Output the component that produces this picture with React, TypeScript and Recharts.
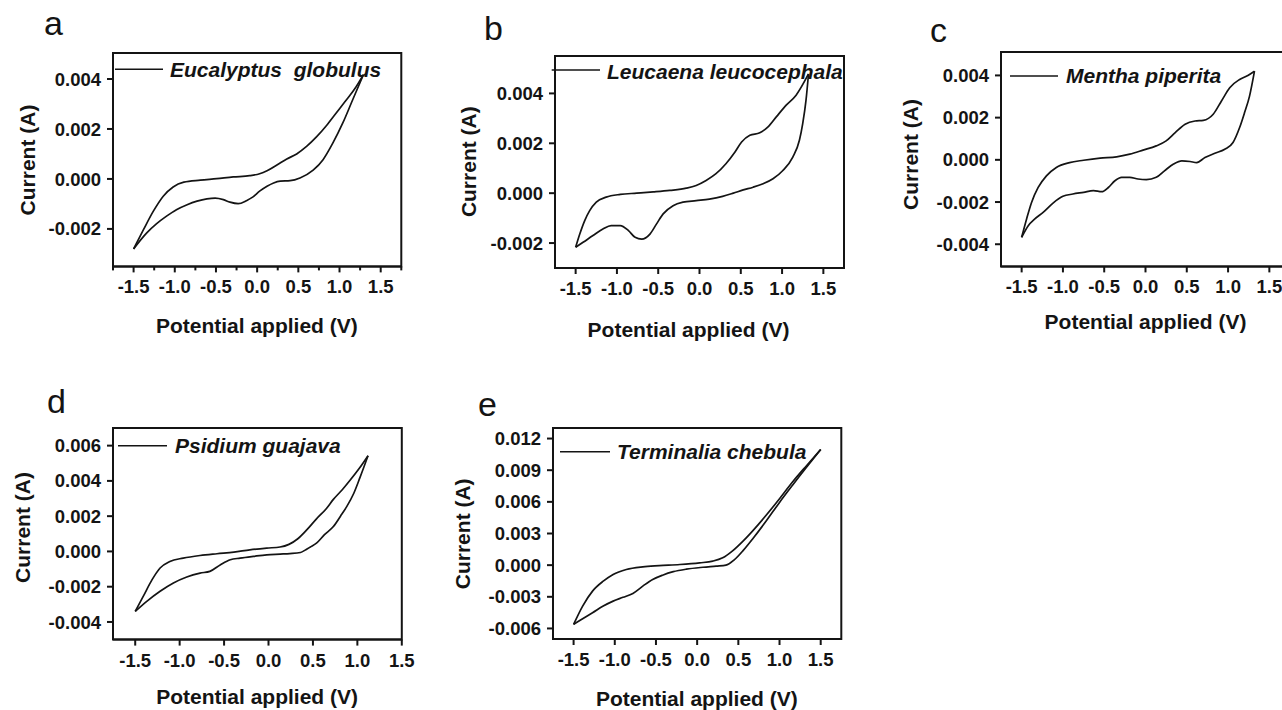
import React from 'react';
import { LineChart, Line, XAxis, YAxis, ReferenceArea } from 'recharts';

// [potential (V), current (mA)] — each voltammogram split into forward (upper) and reverse (lower) branch
type Pt = [number, number];

const xTicks = [-1.5, -1.0, -0.5, 0.0, 0.5, 1.0, 1.5];
const xTicksWithMinor = [-1.75, -1.5, -1.25, -1.0, -0.75, -0.5, -0.25, 0.0, 0.25, 0.5, 0.75, 1.0, 1.25, 1.5, 1.75];
const yTicksA = [-0.002, 0.0, 0.002, 0.004];
const yTicksB = [-0.002, 0.0, 0.002, 0.004];
const yTicksC = [-0.004, -0.002, 0.0, 0.002, 0.004];
const yTicksD = [-0.004, -0.002, 0.0, 0.002, 0.004, 0.006];
const yTicksE = [-0.006, -0.003, 0.0, 0.003, 0.006, 0.009, 0.012];

const eucalyptusFwd: Pt[] = [
  [-1.5, -2.8], [-1.38, -2.03], [-1.26, -1.29], [-1.14, -0.69], [-1.02, -0.32], [-0.89, -0.13],
  [-0.69, -0.05], [-0.49, 0.01], [-0.29, 0.08], [-0.09, 0.13], [0.03, 0.21], [0.12, 0.33],
  [0.24, 0.56], [0.36, 0.8], [0.48, 1.0], [0.6, 1.3], [0.72, 1.68], [0.84, 2.13], [0.96, 2.64],
  [1.08, 3.15], [1.2, 3.68], [1.29, 4.17],
];
const eucalyptusRev: Pt[] = [
  [-1.5, -2.8], [-1.34, -2.16], [-1.22, -1.79], [-1.1, -1.49], [-0.98, -1.23], [-0.85, -1.03],
  [-0.73, -0.89], [-0.61, -0.8], [-0.51, -0.77], [-0.41, -0.83], [-0.33, -0.93], [-0.23, -0.99],
  [-0.13, -0.87], [-0.05, -0.72], [0.03, -0.49], [0.12, -0.29], [0.2, -0.16], [0.28, -0.09],
  [0.4, -0.07], [0.52, 0.04], [0.68, 0.35], [0.8, 0.77], [0.92, 1.44], [1.04, 2.24], [1.16, 3.17],
  [1.29, 4.17],
];

const leucaenaFwd: Pt[] = [
  [-1.5, -2.17], [-1.45, -1.64], [-1.39, -1.1], [-1.33, -0.7], [-1.25, -0.36], [-1.13, -0.16],
  [-0.96, -0.05], [-0.76, 0.0], [-0.56, 0.05], [-0.36, 0.11], [-0.16, 0.2], [-0.04, 0.31],
  [0.08, 0.51], [0.2, 0.78], [0.32, 1.18], [0.43, 1.65], [0.51, 2.05], [0.61, 2.32], [0.73, 2.42],
  [0.83, 2.66], [0.93, 3.06], [1.05, 3.53], [1.17, 3.93], [1.32, 4.78],
];
const leucaenaRev: Pt[] = [
  [-1.5, -2.17], [-1.41, -1.97], [-1.29, -1.7], [-1.17, -1.44], [-1.07, -1.3], [-0.96, -1.3],
  [-0.86, -1.5], [-0.78, -1.77], [-0.7, -1.84], [-0.6, -1.64], [-0.52, -1.23], [-0.44, -0.83],
  [-0.32, -0.5], [-0.2, -0.36], [-0.04, -0.3], [0.12, -0.24], [0.28, -0.13], [0.41, 0.0],
  [0.53, 0.13], [0.65, 0.24], [0.77, 0.38], [0.89, 0.58], [1.01, 0.91], [1.13, 1.45], [1.21, 2.12],
  [1.25, 2.79], [1.29, 3.73], [1.32, 4.78],
];

const menthaFwd: Pt[] = [
  [-1.5, -3.67], [-1.44, -2.8], [-1.38, -2.02], [-1.3, -1.31], [-1.2, -0.76], [-1.08, -0.36],
  [-0.92, -0.13], [-0.75, -0.02], [-0.55, 0.08], [-0.35, 0.14], [-0.19, 0.27], [-0.03, 0.46],
  [0.13, 0.66], [0.25, 0.9], [0.36, 1.29], [0.48, 1.69], [0.6, 1.84], [0.7, 1.87], [0.82, 2.16],
  [0.92, 2.79], [1.02, 3.42], [1.14, 3.81], [1.24, 4.0], [1.32, 4.2],
];
const menthaRev: Pt[] = [
  [-1.5, -3.67], [-1.42, -3.12], [-1.34, -2.8], [-1.24, -2.49], [-1.12, -2.05], [-1.0, -1.73],
  [-0.88, -1.62], [-0.75, -1.54], [-0.63, -1.46], [-0.53, -1.51], [-0.45, -1.31], [-0.37, -0.99],
  [-0.29, -0.83], [-0.19, -0.83], [-0.09, -0.91], [0.01, -0.94], [0.13, -0.83], [0.23, -0.52],
  [0.34, -0.2], [0.44, -0.05], [0.54, -0.08], [0.62, -0.13], [0.72, 0.11], [0.84, 0.31],
  [0.96, 0.5], [1.06, 0.82], [1.14, 1.53], [1.2, 2.24], [1.26, 3.02], [1.32, 4.2],
];

const psidiumFwd: Pt[] = [
  [-1.5, -3.4], [-1.41, -2.55], [-1.31, -1.6], [-1.22, -0.94], [-1.11, -0.57], [-0.96, -0.38],
  [-0.77, -0.23], [-0.58, -0.13], [-0.39, -0.04], [-0.21, 0.09], [-0.02, 0.19], [0.13, 0.25],
  [0.23, 0.4], [0.33, 0.72], [0.43, 1.22], [0.54, 1.85], [0.65, 2.42], [0.73, 2.95], [0.83, 3.5],
  [0.92, 4.05], [1.02, 4.7], [1.12, 5.43],
];
const psidiumRev: Pt[] = [
  [-1.5, -3.4], [-1.37, -2.83], [-1.22, -2.26], [-1.07, -1.79], [-0.92, -1.45], [-0.77, -1.23],
  [-0.66, -1.13], [-0.54, -0.75], [-0.43, -0.47], [-0.32, -0.38], [-0.17, -0.28], [-0.02, -0.19],
  [0.13, -0.15], [0.24, -0.12], [0.36, -0.06], [0.42, 0.1], [0.47, 0.25], [0.54, 0.47],
  [0.63, 0.95], [0.73, 1.41], [0.81, 2.0], [0.88, 2.54], [0.96, 3.3], [1.03, 4.2], [1.12, 5.43],
];

const terminaliaFwd: Pt[] = [
  [-1.5, -5.62], [-1.39, -3.88], [-1.27, -2.46], [-1.14, -1.52], [-1.02, -0.88], [-0.86, -0.41],
  [-0.66, -0.16], [-0.46, -0.05], [-0.21, 0.06], [0.03, 0.22], [0.19, 0.38], [0.31, 0.69],
  [0.43, 1.35], [0.56, 2.3], [0.68, 3.3], [0.84, 4.75], [1.0, 6.3], [1.16, 7.9], [1.33, 9.45],
  [1.5, 10.96],
];
const terminaliaRev: Pt[] = [
  [-1.5, -5.62], [-1.39, -5.08], [-1.27, -4.52], [-1.14, -3.88], [-1.02, -3.41], [-0.9, -3.05],
  [-0.78, -2.68], [-0.66, -1.99], [-0.54, -1.36], [-0.42, -0.95], [-0.29, -0.62], [-0.13, -0.38],
  [0.07, -0.2], [0.23, -0.09], [0.35, 0.0], [0.45, 0.5], [0.56, 1.4], [0.68, 2.55], [0.84, 4.2],
  [1.0, 5.95], [1.16, 7.6], [1.33, 9.3], [1.5, 10.96],
];

const FONT = '"Liberation Sans", Arial, Helvetica, sans-serif';
const INK = '#141414';
const YW = 110; // y axis area width
const XH = 80; // x axis area height
const MT = 20;
const MR = 20;

interface PanelDef {
  letter: string;
  letterAt: [number, number];
  name: string;
  box: [number, number, number, number];
  xDomain: [number, number];
  yDomain: [number, number];
  xTicks: number[];
  yTicks: number[];
  fwd: Pt[];
  rev: Pt[];
  legend: { x0: number; x1: number; y: number; tx: number; ty: number };
  yLabel: { off: number; dy: number };
  xLabel: { dx: number; dy: number };
}

const panels: PanelDef[] = [
  {
    letter: 'a', letterAt: [44, 35], name: 'Eucalyptus  globulus',
    box: [112.7, 53.3, 401, 266.7], xDomain: [-1.75, 1.75], yDomain: [-0.0035, 0.00504],
    xTicks: xTicksWithMinor, yTicks: yTicksA, fwd: eucalyptusFwd, rev: eucalyptusRev,
    legend: { x0: 115, x1: 163, y: 69.3, tx: 170, ty: 77 },
    yLabel: { off: 85, dy: 0 }, xLabel: { dx: 0, dy: 59 },
  },
  {
    letter: 'b', letterAt: [484, 40], name: 'Leucaena leucocephala',
    box: [555, 55.7, 844, 267.7], xDomain: [-1.75, 1.75], yDomain: [-0.003, 0.0055],
    xTicks, yTicks: yTicksB, fwd: leucaenaFwd, rev: leucaenaRev,
    legend: { x0: 551.7, x1: 600, y: 70, tx: 607, ty: 79 },
    yLabel: { off: 87, dy: 0 }, xLabel: { dx: -11, dy: 62 },
  },
  {
    letter: 'c', letterAt: [930, 42], name: 'Mentha piperita',
    box: [1001, 52.3, 1290, 266.7], xDomain: [-1.75, 1.75], yDomain: [-0.00505, 0.00511],
    xTicks, yTicks: yTicksC, fwd: menthaFwd, rev: menthaRev,
    legend: { x0: 1010, x1: 1058, y: 76, tx: 1066, ty: 82.7 },
    yLabel: { off: 91, dy: -5 }, xLabel: { dx: 0, dy: 55 },
  },
  {
    letter: 'd', letterAt: [47, 413], name: 'Psidium guajava',
    box: [112.7, 427.7, 401.5, 639.3], xDomain: [-1.75, 1.5], yDomain: [-0.005, 0.007],
    xTicks, yTicks: yTicksD, fwd: psidiumFwd, rev: psidiumRev,
    legend: { x0: 118, x1: 167, y: 445.7, tx: 175, ty: 453.3 },
    yLabel: { off: 90, dy: -6 }, xLabel: { dx: 0, dy: 57 },
  },
  {
    letter: 'e', letterAt: [478, 416], name: 'Terminalia chebula',
    box: [552.7, 428.3, 841, 639.3], xDomain: [-1.75, 1.75], yDomain: [-0.007, 0.013],
    xTicks, yTicks: yTicksE, fwd: terminaliaFwd, rev: terminaliaRev,
    legend: { x0: 560, x1: 610, y: 451.7, tx: 617, ty: 459 },
    yLabel: { off: 90, dy: 0 }, xLabel: { dx: 0, dy: 59 },
  },
];

const toData = (pts: Pt[]) => pts.map(([v, i]) => ({ x: v, y: i / 1000 }));

const isMajor = (v: number) => Math.abs(v * 2 - Math.round(v * 2)) < 1e-6;

const XTick = (props: any) => {
  const { x, payload, axisY } = props;
  const v = payload.value as number;
  const major = isMajor(v);
  return (
    <g>
      <line x1={x} x2={x} y1={axisY} y2={axisY + (major ? 6 : 4)} stroke={INK} strokeWidth={2} />
      {major && (
        <text x={x} y={axisY + 27} textAnchor="middle" fill={INK} fontSize={18.5} fontWeight={700} fontFamily={FONT}>
          {v.toFixed(1)}
        </text>
      )}
    </g>
  );
};

const Panel = ({ p }: { p: PanelDef }) => {
  const [x0, y0, x1, y1] = p.box;
  const W = x1 - x0;
  const H = y1 - y0;
  return (
    <div style={{ position: 'absolute', left: x0 - YW, top: y0 - MT }}>
      <LineChart width={YW + W + MR} height={MT + H + XH} margin={{ top: MT, right: MR, bottom: 0, left: 0 }}>
        <ReferenceArea
          x1={p.xDomain[0]} x2={p.xDomain[1]} y1={p.yDomain[0]} y2={p.yDomain[1]}
          fill="none" stroke={INK} strokeWidth={2} ifOverflow="visible"
        />
        <XAxis
          type="number" dataKey="x" domain={p.xDomain} ticks={p.xTicks} allowDataOverflow interval={0}
          height={XH} axisLine={{ stroke: INK, strokeWidth: 2 }} tickLine={false}
          tick={<XTick axisY={MT + H} />}
        />
        <YAxis
          type="number" domain={p.yDomain} ticks={p.yTicks} allowDataOverflow interval={0}
          width={YW} axisLine={{ stroke: INK, strokeWidth: 2 }} tickLine={{ stroke: INK, strokeWidth: 2 }}
          tickSize={6} tickMargin={6}
          tick={{ fill: INK, fontSize: 18.5, fontWeight: 700, fontFamily: FONT }}
          tickFormatter={(v: number) => v.toFixed(3)}
        />
        <Line data={toData(p.fwd)} dataKey="y" type="monotone" stroke={INK} strokeWidth={1.7} dot={false} isAnimationActive={false} />
        <Line data={toData(p.rev)} dataKey="y" type="monotone" stroke={INK} strokeWidth={1.7} dot={false} isAnimationActive={false} />
      </LineChart>
    </div>
  );
};

const Overlay = () => (
  <svg width={1282} height={710} style={{ position: 'absolute', left: 0, top: 0, pointerEvents: 'none' }}>
    {panels.map((p) => {
      const [x0, y0, x1, y1] = p.box;
      const cy = (y0 + y1) / 2 + p.yLabel.dy;
      const cx = x0 - p.yLabel.off;
      return (
        <g key={p.letter} fill={INK} fontFamily={FONT}>
          <text x={p.letterAt[0]} y={p.letterAt[1]} fontSize={34}>{p.letter}</text>
          <line x1={p.legend.x0} x2={p.legend.x1} y1={p.legend.y} y2={p.legend.y} stroke={INK} strokeWidth={1.6} />
          <text x={p.legend.tx} y={p.legend.ty} fontSize={21} fontWeight={700} fontStyle="italic" style={{ whiteSpace: 'pre' }}>
            {p.name}
          </text>
          <text x={cx} y={cy} dy="0.36em" transform={`rotate(-90 ${cx} ${cy})`} textAnchor="middle" fontSize={21} fontWeight={700}>
            Current (A)
          </text>
          <text x={(x0 + x1) / 2 + p.xLabel.dx} y={y1 + p.xLabel.dy} dy="0.36em" textAnchor="middle" fontSize={21} fontWeight={700}>
            Potential applied (V)
          </text>
        </g>
      );
    })}
  </svg>
);

export default function App() {
  return (
    <div style={{ position: 'absolute', left: 0, top: 0, width: 1282, height: 710, overflow: 'hidden', background: '#fff' }}>
      {panels.map((p) => (
        <Panel key={p.letter} p={p} />
      ))}
      <Overlay />
    </div>
  );
}
